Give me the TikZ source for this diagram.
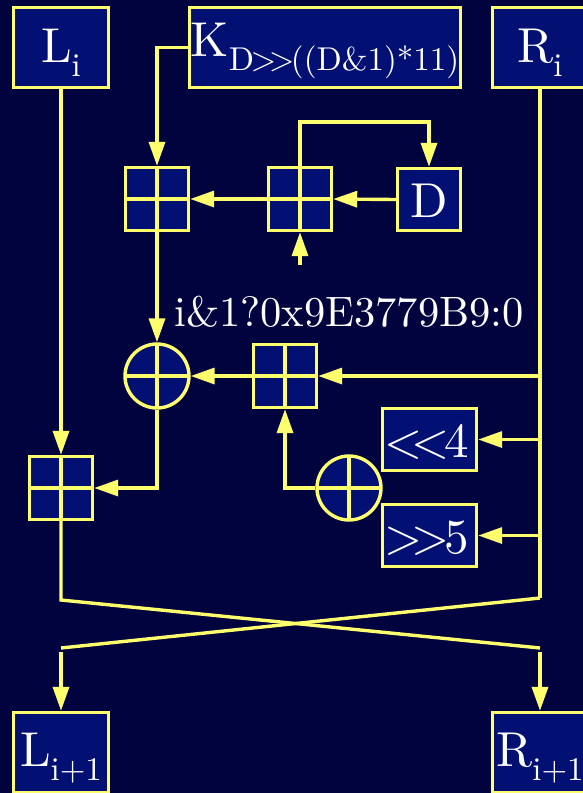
\documentclass[tikz,border=0pt]{standalone}
\usepackage{fontspec}
\setmainfont{lmroman10-regular.otf}
\usetikzlibrary{arrows.meta}
\definecolor{bgc}{RGB}{0,3,62}
\definecolor{boxc}{RGB}{2,16,115}
\definecolor{yel}{RGB}{255,255,110}
\newcommand\sbs[1]{\raisebox{-14pt}{\fontsize{33}{33}\selectfont #1}}
\newcommand\lt{\kern-0.11em<\kern-0.11em}
\newcommand\gt{\kern-0.11em>\kern-0.11em}
\begin{document}
\begin{tikzpicture}[x=1pt,y=-1pt,
  every node/.style={text=white,font=\fontsize{49}{49}\selectfont},
  conn/.style={draw=yel,line width=3.4pt},
  arr/.style={conn,-{Triangle[length=24pt,width=16pt]}},
  vbox/.style={draw=yel,fill=boxc,line width=3.4pt,inner sep=0pt,rectangle},
  iobox/.style={vbox,minimum width=95pt,minimum height=80pt,text height=37pt,text depth=8pt},
  opbox/.style={vbox,minimum width=94pt,minimum height=62pt,text height=35pt,text depth=0pt},
  crossp/.style={path picture={\draw[yel,line width=3.4pt]
     (path picture bounding box.north) -- (path picture bounding box.south)
     (path picture bounding box.west) -- (path picture bounding box.east);}},
  adder/.style={vbox,minimum size=63pt,crossp},
  xorc/.style={draw=yel,fill=boxc,line width=3.4pt,circle,inner sep=0pt,minimum size=64pt,crossp}
]
\path[use as bounding box] (0,0) rectangle (583,793);
\clip (0,0) rectangle (583,793);
\fill[bgc] (0,0) rectangle (583,793);

% input / output boxes
\node[iobox] (Li) at (61,47.5) {L\sbs{i}};
\node[iobox,minimum width=271pt,text height=37pt,text depth=20pt] (K) at (325,47.5) {K\sbs{D\gt\gt((D\&1)*11)}};
\node[iobox] (Ri) at (540,47.5) {R\sbs{i}};
\node[iobox,text height=36pt,text depth=9pt] (Lo) at (61,752.5) {L\sbs{i+1}};
\node[iobox,text height=36pt,text depth=9pt] (Ro) at (540,752.5) {R\sbs{i+1}};

% operation nodes
\node[adder] (A1) at (157,199) {};
\node[adder] (A2) at (300,199) {};
\node[vbox,minimum width=63pt,minimum height=62pt,text height=35pt,text depth=0pt] (D) at (429,199.5) {D};
\node[font=\fontsize{42.5}{42.5}\selectfont,inner sep=0pt,anchor=base] (lbl) at (349,326) {i\&1?0x9E3779B9:0};
\node[xorc] (X1) at (157,376) {};
\node[adder] (A3) at (285,376) {};
\node[opbox] (SL) at (429.5,439.5) {\lt\lt4};
\node[xorc] (X2) at (349,488) {};
\node[opbox] (SR) at (429.5,535.5) {\gt\gt5};
\node[adder] (A4) at (61,488) {};

% helper coordinates
\coordinate (lp) at (300,122);
\coordinate (kin) at (300,265);
\coordinate (r1) at (Ri.south |- A3.east);
\coordinate (r2) at (Ri.south |- SL.east);
\coordinate (r3) at (Ri.south |- SR.east);
\coordinate (rb) at (540,598);
\coordinate (lb) at (61,600);
\coordinate (lx) at (61,648);
\coordinate (rx) at (540,648);
\coordinate (lo) at (61,652);
\coordinate (ro) at (540,652);

% connectors
\draw[arr] (Li.south) -- (A4.north);
\draw[arr] (K.west) -| (A1.north);
\draw[arr] (A2.north) -- (lp) -| (D.north);
\draw[arr] (D.west) -- (A2.east);
\draw[arr] (A2.west) -- (A1.east);
\draw[arr] (kin) -- (A2.south);
\draw[arr] (A1.south) -- (X1.north);
\draw[conn] (Ri.south) -- (rb);
\draw[arr] (r1) -- (A3.east);
\draw[arr] (r2) -- (SL.east);
\draw[arr] (r3) -- (SR.east);
\draw[arr] (A3.west) -- (X1.east);
\draw[arr] (X2.west) -| (A3.south);
\draw[arr] (X1.south) |- (A4.east);
\draw[conn] (A4.south) -- (lb) -- (rx);
\draw[conn] (rb) -- (lx);
\draw[arr] (lo) -- (Lo.north);
\draw[arr] (ro) -- (Ro.north);
\end{tikzpicture}
\end{document}
